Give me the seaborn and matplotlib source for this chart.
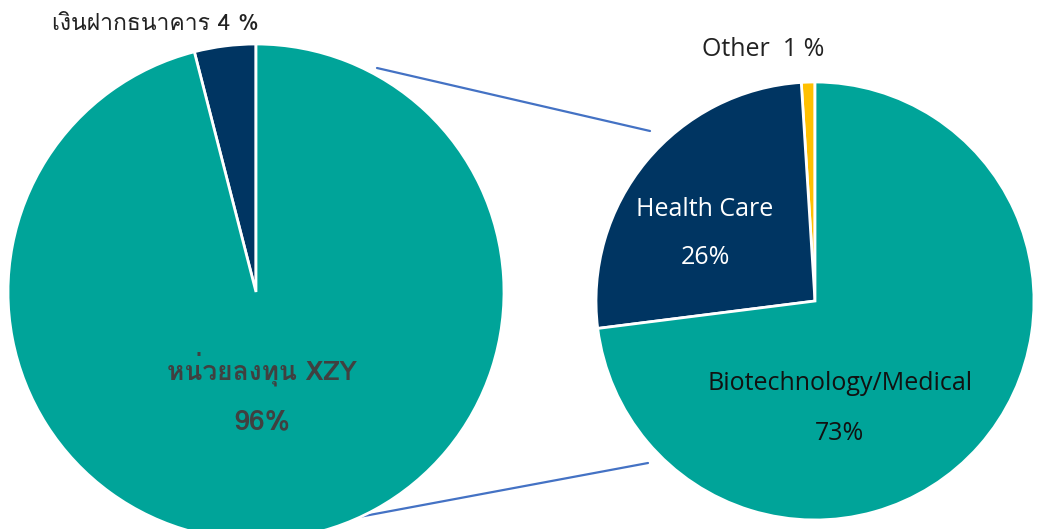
"""
Pie-of-pie chart: fund allocation with a breakdown of the investment unit.
Saves out.png (1041x529).
"""
import matplotlib
matplotlib.use("Agg")
import matplotlib.pyplot as plt
from matplotlib import font_manager
from fontTools.ttLib import TTFont
import seaborn as sns

# main pie (counter-clockwise from 12 o'clock)
main_labels = ["เงินฝากธนาคาร", "หน่วยลงทุน XZY"]
main_values = [4, 96]

# breakdown of the investment unit
sub_labels = ["Other", "Health Care", "Biotechnology/Medical"]
sub_values = [1, 26, 73]

TEAL = "#00A499"
NAVY = "#003562"
GOLD = "#FFC000"
LINE = "#4472C4"


def find_thai_font():
    """Return the name of an installed font that has Thai glyphs, if any."""
    for fe in font_manager.fontManager.ttflist:
        try:
            font = TTFont(fe.fname, fontNumber=0, lazy=True)
            cmap = font.getBestCmap()
            if cmap and 0x0E07 in cmap and 0x0E19 in cmap:
                return fe.name
        except Exception:
            continue
    return None


sns.set_theme(style="white")
thai = find_thai_font()
thai_fam = ([thai] if thai else []) + ["DejaVu Sans"]
latin_fam = ["Open Sans", "DejaVu Sans"]
plt.rcParams["font.family"] = thai_fam

W, H = 1041, 529
fig = plt.figure(figsize=(W / 100, H / 100), dpi=100)
ax = fig.add_axes([0, 0, 1, 1])

wedge = dict(edgecolor="white", linewidth=2)

# connector lines (drawn first so the pies sit on top)
ax.plot([377, 650], [H - 68, H - 131], color=LINE, lw=1.6, zorder=1)
ax.plot([348, 648], [H - 519, H - 463], color=LINE, lw=1.6, zorder=1)

ax.pie(main_values, colors=[NAVY, TEAL], startangle=90,
       center=(256, H - 292), radius=248, wedgeprops=wedge, frame=True)
ax.pie(sub_values, colors=[GOLD, NAVY, TEAL], startangle=90,
       center=(815, H - 301), radius=219, wedgeprops=wedge, frame=True)
ax.set_xlim(0, W)
ax.set_ylim(0, H)
ax.set_axis_off()

# main pie labels
ax.text(155, H - 25, f"{main_labels[0]} {main_values[0]} %", fontsize=16.5,
        color="#222222", ha="center", va="center", family=thai_fam)
ax.text(262, H - 369, main_labels[1], fontsize=19, fontweight="bold",
        color="#404040", ha="center", va="center", family=thai_fam)
ax.text(262, H - 422, f"{main_values[1]}%", fontsize=20.5, fontweight="bold",
        color="#404040", ha="center", va="center", family=thai_fam)

# sub pie labels
ax.text(763, H - 50, f"{sub_labels[0]}  {sub_values[0]} %", fontsize=18,
        color="#222222", ha="center", va="center", family=latin_fam)
ax.text(705, H - 209, sub_labels[1], fontsize=18, color="white",
        ha="center", va="center", family=latin_fam)
ax.text(705, H - 257, f"{sub_values[1]}%", fontsize=18, color="white",
        ha="center", va="center", family=latin_fam)
ax.text(840, H - 383, sub_labels[2], fontsize=18, color="#111111",
        ha="center", va="center", family=latin_fam)
ax.text(840, H - 433, f"{sub_values[2]}%", fontsize=18, color="#111111",
        ha="center", va="center", family=latin_fam)

fig.savefig("out.png", dpi=100)
plt.close(fig)
